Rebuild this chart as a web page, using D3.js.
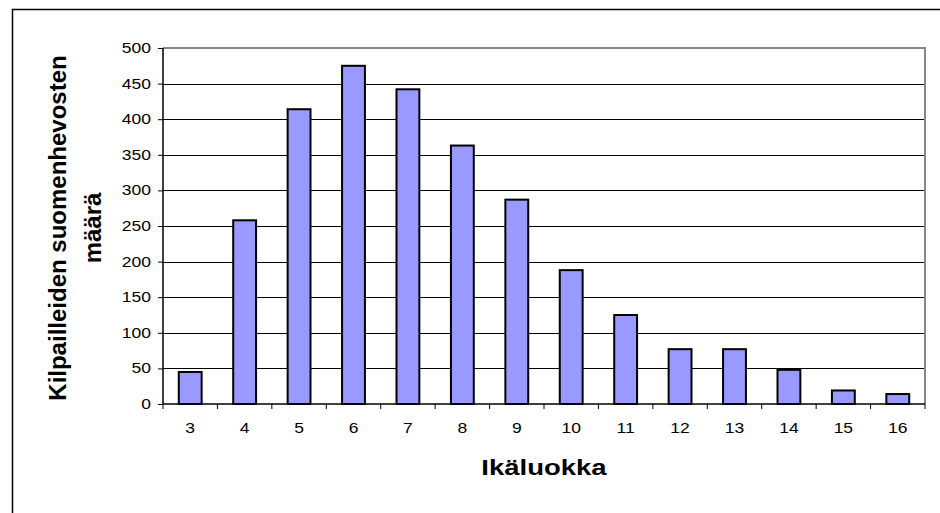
<!DOCTYPE html>
<html>
<head>
<meta charset="utf-8">
<script src="https://cdn.jsdelivr.net/npm/d3@7"></script>
<style>
  body { margin: 0; background: #fff; }
  svg text { font-family: "Liberation Sans", Arial, sans-serif; fill: #000; }
</style>
</head>
<body>
<svg id="chart"></svg>
<script>
// data
const ages   = ["3","4","5","6","7","8","9","10","11","12","13","14","15","16"];
const counts = [45, 258, 414, 475, 442, 363, 287, 188, 125, 77, 77, 48, 19, 14];
const yTicks = [0, 50, 100, 150, 200, 250, 300, 350, 400, 450, 500];

const W = 940, H = 513;
const margin = {top: 48, right: 15, bottom: 109, left: 163};
const width  = W - margin.left - margin.right;
const height = H - margin.top - margin.bottom;
const stretch = 1.25; // horizontal text stretch seen in the picture

const svg = d3.select("#chart")
  .attr("width", W)
  .attr("height", H);

// outer chart frame
svg.append("rect")
  .attr("x", 12.5).attr("y", 9.5)
  .attr("width", W).attr("height", H)
  .attr("fill", "none")
  .attr("stroke", "#000")
  .attr("stroke-width", 1.5);

const g = svg.append("g")
  .attr("transform", "translate(" + margin.left + "," + margin.top + ")");

const x = d3.scaleBand().domain(ages).range([0, width]).paddingInner(0.58).paddingOuter(0.29);
const y = d3.scaleLinear().domain([0, 500]).range([height, 0]);

// gridlines
g.append("g")
  .selectAll("line")
  .data(yTicks.filter(d => d > 0 && d < 500))
  .join("line")
    .attr("x1", 0).attr("x2", width)
    .attr("y1", d => Math.round(y(d)) + 0.5)
    .attr("y2", d => Math.round(y(d)) + 0.5)
    .attr("stroke", "#000")
    .attr("stroke-width", 1);

// gray plot frame (top / right)
g.append("path")
  .attr("d", "M0," + 0 + "H" + width + "V" + height)
  .attr("fill", "none")
  .attr("stroke", "#888")
  .attr("stroke-width", 2);

// bars
g.append("g")
  .selectAll("rect")
  .data(counts)
  .join("rect")
    .attr("x", (d, i) => x(ages[i]))
    .attr("y", d => y(d))
    .attr("width", x.bandwidth())
    .attr("height", d => height - y(d))
    .attr("fill", "#9999FF")
    .attr("stroke", "#000")
    .attr("stroke-width", 2);

// y axis
const yAxis = d3.axisLeft(y).tickValues(yTicks).tickSize(5).tickFormat("");
const ya = g.append("g").attr("class", "axis").call(yAxis);
ya.select(".domain").attr("stroke-width", 1.5).attr("d", "M0," + height + "V0");
ya.selectAll(".tick text").remove();
g.append("g")
  .selectAll("text")
  .data(yTicks)
  .join("text")
    .attr("transform", d => "translate(-12," + y(d) + ") scale(" + stretch + ",1)")
    .attr("text-anchor", "end")
    .attr("dy", "0.36em")
    .style("font-size", "14px")
    .text(d => d);

// x axis, ticks at band boundaries
const xa = g.append("g").attr("transform", "translate(0," + height + ")");
xa.append("line")
  .attr("x1", 0).attr("x2", width)
  .attr("stroke", "#000").attr("stroke-width", 1.5);
xa.selectAll(".tk")
  .data(d3.range(ages.length + 1))
  .join("line")
    .attr("class", "tk")
    .attr("x1", i => i * width / ages.length)
    .attr("x2", i => i * width / ages.length)
    .attr("y1", 0).attr("y2", 5)
    .attr("stroke", "#000");
xa.selectAll("text")
  .data(ages)
  .join("text")
    .attr("transform", d => "translate(" + (x(d) + x.bandwidth() / 2) + ",29) scale(" + stretch + ",1)")
    .attr("text-anchor", "middle")
    .style("font-size", "14px")
    .text(d => d);

// axis titles
svg.append("text")
  .attr("transform", "translate(" + (margin.left + width / 2) + ",475) scale(" + stretch + ",1)")
  .attr("text-anchor", "middle")
  .style("font-size", "22px")
  .style("font-weight", "bold")
  .text("Ikäluokka");

const yt = svg.append("text")
  .attr("transform", "translate(66,228) rotate(-90)")
  .attr("text-anchor", "middle")
  .style("font-size", "24px")
  .style("font-weight", "bold");
yt.append("tspan").attr("x", 0).attr("dy", 0).text("Kilpailleiden suomenhevosten");
yt.append("tspan").attr("x", 0).attr("dy", 35).text("määrä");
</script>
</body>
</html>
